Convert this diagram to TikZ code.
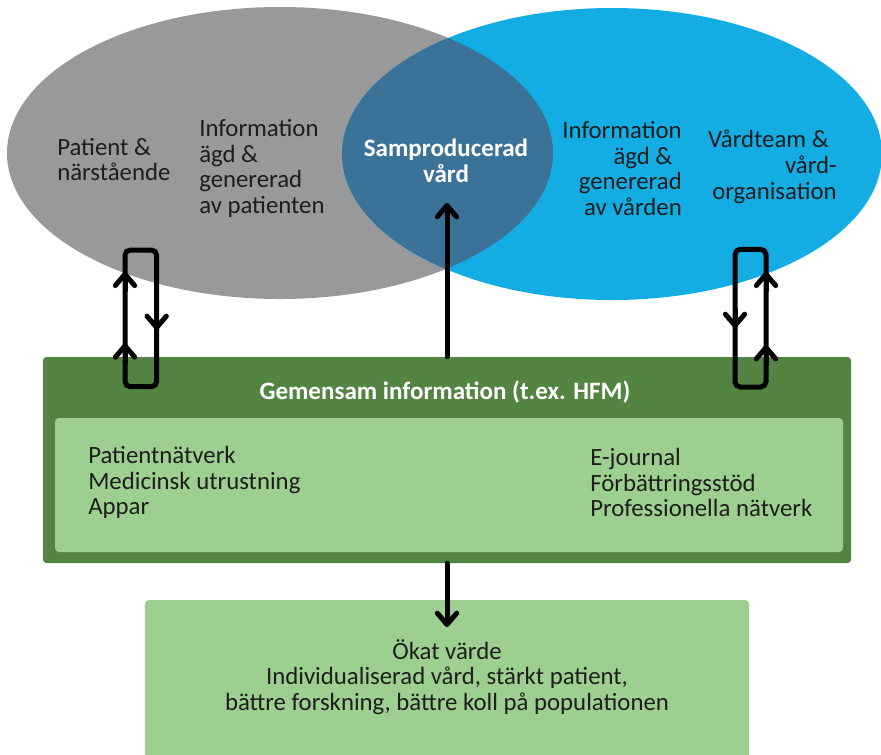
\documentclass[tikz,border=0pt]{standalone}
\usepackage{fontspec}
\setmainfont{Carlito}
\usetikzlibrary{arrows.meta}

\definecolor{patientgray}{HTML}{98999B}
\definecolor{careblue}{HTML}{13ADE3}
\definecolor{sharedblue}{HTML}{3B7297}
\definecolor{darkgreen}{HTML}{548441}
\definecolor{lightgreen}{HTML}{9DD090}
\definecolor{ink}{HTML}{1D1D1B}

\tikzset{
  txt/.style={inner sep=0pt, text=ink, font=\fontsize{18.6}{19.3}\selectfont},
  boldtxt/.style={inner sep=0pt, text=white, font=\fontsize{18.8}{19.3}\selectfont\bfseries},
  arr/.style={line width=3.75pt, line cap=round, line join=round,
    -{Straight Barb[round, length=8.5pt, width=14.5pt]}},
  loopline/.style={line width=3.75pt, line cap=round, rounded corners=4pt},
  outerbox/.style={fill=darkgreen, rounded corners=2.5pt, minimum width=606pt, minimum height=154.5pt, inner sep=0pt},
  innerbox/.style={fill=lightgreen, rounded corners=3pt, minimum width=591pt, minimum height=100.5pt, inner sep=0pt},
  valuebox/.style={fill=lightgreen, rounded corners=3pt, minimum width=453pt, minimum height=120pt, inner sep=0pt},
}

\begin{document}
\begin{tikzpicture}[x=0.75pt, y=-0.75pt]
\useasboundingbox (0,0) rectangle (881,754);

% two overlapping ellipses and their shared part
\coordinate (pc) at (280,153);
\coordinate (vc) at (612,154);
\fill[patientgray] (pc) ellipse [x radius=273, y radius=146];
\fill[careblue] (vc) ellipse [x radius=270, y radius=146];
\begin{scope}
  \clip (pc) ellipse [x radius=273, y radius=146];
  \fill[sharedblue] (vc) ellipse [x radius=270, y radius=146];
\end{scope}

% ellipse labels
\node[txt, anchor=west, align=left] (pat) at (57,159.5) {Patient \&\\närstående};
\node[txt, anchor=west, align=left] (patinfo) at (199,168.5) {Information\\ägd \&\\genererad\\av patienten};
\node[boldtxt, align=center] (samp) at (446,161) {Samproducerad\\vård};
\node[txt, anchor=east, align=right] (careinfo) at (682,168.5) {Information\\ägd \&\kern7pt\\genererad\\av vården};
\node[txt, anchor=east, align=right] (team) at (837,167) {Vårdteam \&\kern6pt\\vård-\\organisation};

% shared information box
\node[outerbox] (shared) at (447,460) {};
\node[innerbox] (platforms) at (449,485) {};
\node[boldtxt] (sharedtitle) at (445,392) {Gemensam information (t.ex. HFM)};
\node[txt, anchor=west, align=left] (patnet) at (88,482.5) {Patientnätverk\\Medicinsk utrustning\\Appar};
\node[txt, anchor=west, align=left] (pronet) at (590,482.5) {E-journal\\Förbättringsstöd\\Professionella nätverk};

% value box
\node[valuebox] (value) at (447,680) {};
\node[txt, align=center] (valuetext) at (447,677) {Ökat värde\\Individualiserad vård, stärkt patient,\\bättre forskning, bättre koll på populationen};

% central connectors
\coordinate (sampTip) at (447,203);
\coordinate (valueTip) at (447,627);
\draw[arr] (shared.north) -- (shared.north |- sampTip);
\draw[arr] (shared.south) -- (shared.south |- valueTip);

% exchange loop, patient side
\coordinate (lTL) at (125,250);
\coordinate (lBR) at (156.7,386.7);
\draw[loopline] (lTL) rectangle (lBR);
\coordinate (lUp1) at (125,343.3);
\coordinate (lUp2) at (125,271.7);
\coordinate (lDown) at (156.7,330);
\draw[arr] ([yshift=-14pt]lUp1) -- (lUp1);
\draw[arr] ([yshift=-14pt]lUp2) -- (lUp2);
\draw[arr] ([yshift=14pt]lDown) -- (lDown);

% exchange loop, care side
\coordinate (rTL) at (735,249.3);
\coordinate (rBR) at (766,387);
\draw[loopline] (rTL) rectangle (rBR);
\coordinate (rDown) at (735,328);
\coordinate (rUp1) at (766,345);
\coordinate (rUp2) at (766,271.7);
\draw[arr] ([yshift=14pt]rDown) -- (rDown);
\draw[arr] ([yshift=-14pt]rUp1) -- (rUp1);
\draw[arr] ([yshift=-14pt]rUp2) -- (rUp2);
\end{tikzpicture}
\end{document}
